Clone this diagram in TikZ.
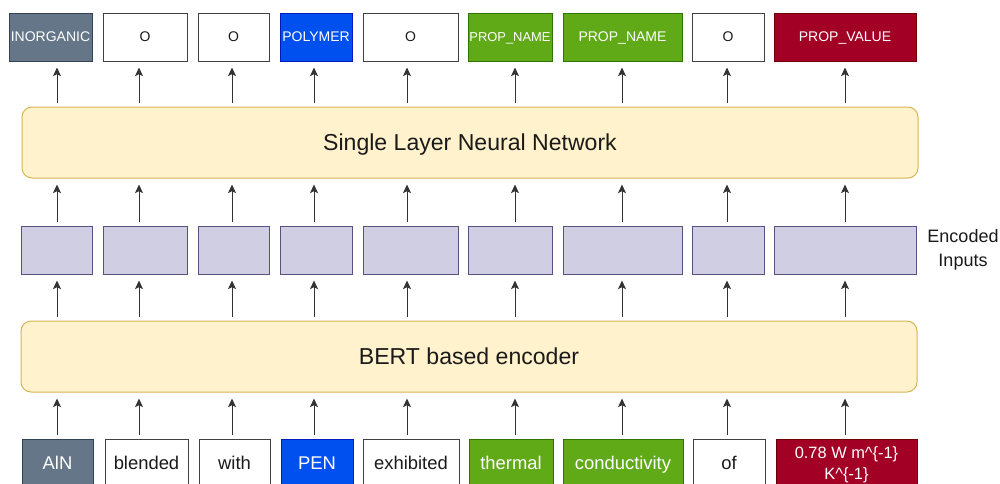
\documentclass[tikz,border=0pt]{standalone}
\usepackage{fontspec}
\setmainfont{Liberation Sans}
\usetikzlibrary{arrows.meta}
\definecolor{grayF}{HTML}{647687}\definecolor{grayS}{HTML}{314354}
\definecolor{blueF}{HTML}{0050EF}\definecolor{blueS}{HTML}{001DBC}
\definecolor{greenF}{HTML}{60A917}\definecolor{greenS}{HTML}{2D7600}
\definecolor{redF}{HTML}{A20025}\definecolor{redS}{HTML}{6F0000}
\definecolor{encF}{HTML}{D0CEE2}\definecolor{encS}{HTML}{56517E}
\definecolor{barF}{HTML}{FFF2CC}\definecolor{barS}{HTML}{D6B656}
\definecolor{txt}{HTML}{1A1A1A}
\begin{document}
\begin{tikzpicture}[x=0.75pt,y=-0.75pt,
  tok/.style={rectangle, minimum height=36pt, inner sep=0pt, line width=0.75pt, text depth=0pt},
  wd/.style={minimum width=#1*0.75pt},
  toptok/.style={tok, font=\fontsize{10.5}{12}\selectfont},
  bottok/.style={tok, font=\fontsize{13.8}{16}\selectfont},
  wbox/.style={draw=black!75, fill=white, text=txt},
  gbox/.style={draw=grayS, fill=grayF, text=white},
  bbox/.style={draw=blueS, fill=blueF, text=white},
  grbox/.style={draw=greenS, fill=greenF, text=white},
  rbox/.style={draw=redS, fill=redF, text=white},
  encbox/.style={tok, draw=encS, fill=encF},
  bar/.style={rectangle, rounded corners=7.5pt, draw=barS, fill=barF, line width=0.75pt,
     minimum height=53.25pt, inner sep=0pt, text depth=0pt, text=txt, font=\fontsize{17.3}{20}\selectfont},
  arr/.style={-{Stealth[length=6.5pt,width=6pt,inset=1.5pt]}, line width=0.75pt, draw=black!80,
     shorten <=2.6pt, shorten >=4.5pt}]
\fill[white] (0,0) rectangle (1000,483);
\useasboundingbox (0,0) rectangle (1000,483);

% column x positions
\coordinate (c1) at (57,0);
\coordinate (c2) at (139,0);
\coordinate (c3) at (232,0);
\coordinate (c4) at (314,0);
\coordinate (c5) at (407,0);
\coordinate (c6) at (515,0);
\coordinate (c7) at (622,0);
\coordinate (c8) at (727,0);
\coordinate (c9) at (845,0);

% top labels
\node[toptok, gbox, wd=83] (t1) at (50.5,37) {INORGANIC};
\node[toptok, wbox, wd=84] (t2) at (145,37) {O};
\node[toptok, wbox, wd=71] (t3) at (233.5,37) {O};
\node[toptok, bbox, wd=72] (t4) at (316,37) {POLYMER};
\node[toptok, wbox, wd=95] (t5) at (410.5,37) {O};
\node[toptok, grbox, wd=84, font=\fontsize{9.7}{12}\selectfont] (t6) at (510,37) {PROP\_NAME};
\node[toptok, grbox, wd=119] (t7) at (622.5,37) {PROP\_NAME};
\node[toptok, wbox, wd=72] (t8) at (728,37) {O};
\node[toptok, rbox, wd=142] (t9) at (845,37) {PROP\_VALUE};

% single layer network
\node[bar, minimum width=672pt] (slnn) at (470,142.5) {Single Layer Neural Network};

% encoded inputs
\node[encbox, wd=71] (e1) at (56.5,250) {};
\node[encbox, wd=84] (e2) at (145,250) {};
\node[encbox, wd=71] (e3) at (233.5,250) {};
\node[encbox, wd=72] (e4) at (316,250) {};
\node[encbox, wd=95] (e5) at (410.5,250) {};
\node[encbox, wd=84] (e6) at (510,250) {};
\node[encbox, wd=119] (e7) at (622.5,250) {};
\node[encbox, wd=72] (e8) at (728,250) {};
\node[encbox, wd=142] (e9) at (845,250) {};
\node[align=center, text=txt, font=\fontsize{13.5}{18}\selectfont, inner sep=0pt] (enc) at (963,250) {Encoded\\Inputs};

% BERT encoder
\node[bar, minimum width=672pt] (bert) at (469,356.5) {BERT based encoder};

% input tokens
\node[bottok, gbox, wd=71] (b1) at (57.5,463) {AlN};
\node[bottok, wbox, wd=83] (b2) at (146.5,463) {blended};
\node[bottok, wbox, wd=71] (b3) at (234.5,463) {with};
\node[bottok, bbox, wd=72] (b4) at (317,463) {PEN};
\node[bottok, wbox, wd=96] (b5) at (411,463) {exhibited};
\node[bottok, grbox, wd=84] (b6) at (511,463) {thermal};
\node[bottok, grbox, wd=120] (b7) at (623,463) {conductivity};
\node[bottok, wbox, wd=72] (b8) at (729,463) {of};
\node[tok, rbox, wd=141, align=center, font=\fontsize{12.3}{15.75}\selectfont] (b9) at (846.5,463) {0.78 W m\textasciicircum\{-1\}\\K\textasciicircum\{-1\}};

% arrows
\foreach \i in {1,...,9} {
  \draw[arr] (b\i.north -| c\i) -- (bert.south -| c\i);
  \draw[arr] (bert.north -| c\i) -- (e\i.south -| c\i);
  \draw[arr] (e\i.north -| c\i) -- (slnn.south -| c\i);
  \draw[arr] (slnn.north -| c\i) -- (t\i.south -| c\i);
}
\end{tikzpicture}
\end{document}
